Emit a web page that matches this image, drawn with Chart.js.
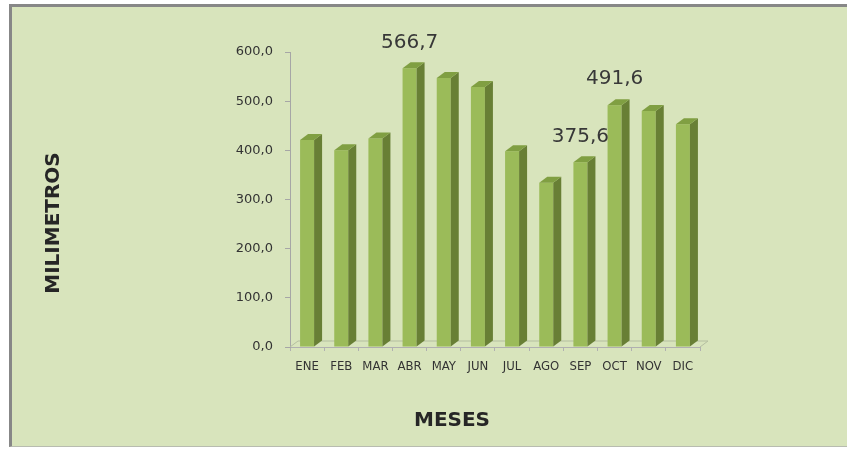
<!DOCTYPE html>
<html>
<head>
<meta charset="utf-8">
<script src="https://cdn.jsdelivr.net/npm/chart.js@4"></script>
<style>
  body { margin: 0; background: #ffffff; }
  #frame {
    position: absolute; left: 9px; top: 4px; width: 840px; height: 439px;
    background: #d8e4bc;
    border-left: 3px solid #878787; border-top: 3px solid #878787;
    border-bottom: 1px solid #b8bcb0;
  }
  #box { position: absolute; left: 0; top: 0; width: 847px; height: 449px; }
</style>
</head>
<body>
<div id="frame"></div>
<div id="box"><canvas id="lluvia_chart"></canvas></div>
<script>
// precipitacion mensual (mm)
const meses = ["ENE", "FEB", "MAR", "ABR", "MAY", "JUN", "JUL", "AGO", "SEP", "OCT", "NOV", "DIC"];
const milimetros = [421, 400, 424, 566.7, 547, 529, 398, 334, 375.6, 491.6, 480, 453];
const conEtiqueta = ["ABR", "SEP", "OCT"];
const yTicks = [0, 100, 200, 300, 400, 500, 600];

function coma(v) {
  return v.toFixed(1).replace(".", ",");
}

// caras laterales y superiores de las barras (efecto 3D)
const barras3d = {
  id: "barras3d",
  beforeDatasetsDraw(chart) {
    const ctx = chart.ctx;
    const area = chart.chartArea;
    ctx.save();
    ctx.strokeStyle = "#b4bea0";
    ctx.lineWidth = 1;
    ctx.beginPath();
    ctx.moveTo(area.left, area.bottom);
    ctx.lineTo(area.left + 8, area.bottom - 6);
    ctx.lineTo(area.right + 8, area.bottom - 6);
    ctx.lineTo(area.right, area.bottom);
    ctx.stroke();
    ctx.restore();
  },
  afterDatasetsDraw(chart) {
    const ctx = chart.ctx;
    const d = 8, h = 6;
    ctx.save();
    chart.getDatasetMeta(0).data.forEach((bar) => {
      const left = bar.x - bar.width / 2;
      const right = bar.x + bar.width / 2;
      // lado
      ctx.fillStyle = "#687f35";
      ctx.beginPath();
      ctx.moveTo(right, bar.y);
      ctx.lineTo(right + d, bar.y - h);
      ctx.lineTo(right + d, bar.base - h);
      ctx.lineTo(right, bar.base);
      ctx.closePath();
      ctx.fill();
      // tapa
      ctx.fillStyle = "#809f42";
      ctx.beginPath();
      ctx.moveTo(left, bar.y);
      ctx.lineTo(left + d, bar.y - h);
      ctx.lineTo(right + d, bar.y - h);
      ctx.lineTo(right, bar.y);
      ctx.closePath();
      ctx.fill();
    });
    ctx.restore();
  },
};

// valores sobre algunas barras y titulos de ejes
const textos = {
  id: "textos",
  afterDraw(chart) {
    const ctx = chart.ctx;
    ctx.save();
    ctx.fillStyle = "#383838";
    ctx.font = "20px 'DejaVu Sans'";
    ctx.textAlign = "center";
    ctx.textBaseline = "middle";
    chart.getDatasetMeta(0).data.forEach((bar, i) => {
      if (conEtiqueta.includes(meses[i])) {
        ctx.fillText(coma(milimetros[i]), bar.x, bar.y - 26);
      }
    });

    ctx.fillStyle = "#262626";
    ctx.font = "bold 20px 'DejaVu Sans'";
    ctx.fillText("MESES", 452, 421);

    ctx.translate(54, 223);
    ctx.rotate(-Math.PI / 2);
    ctx.fillText("MILIMETROS", 0, 0);
    ctx.restore();
  },
};

let lluvia_chart = document.getElementById("lluvia_chart");
let lluviaChart = new Chart(lluvia_chart, {
  type: "bar",
  data: {
    labels: meses,
    datasets: [
      {
        label: "Precipitacion",
        data: milimetros,
        backgroundColor: "#9bbb59",
        borderWidth: 0,
        barPercentage: 0.41,
        categoryPercentage: 1,
      },
    ],
  },
  options: {
    responsive: true,
    maintainAspectRatio: false,
    animation: false,
    layout: {
      padding: { top: 52, right: 147, left: 0, bottom: 0 },
    },
    plugins: {
      legend: { display: false },
      tooltip: { enabled: false },
    },
    scales: {
      x: {
        offset: true,
        afterFit: (scale) => {
          scale.height = 102;
        },
        border: { color: "#b0b0b0" },
        grid: {
          drawOnChartArea: false,
          tickLength: 4,
          color: "#b0b0b0",
          offset: true,
        },
        ticks: {
          padding: 8,
          color: "#333333",
          maxRotation: 0,
          autoSkip: false,
          font: { family: "'Liberation Sans Narrow', 'DejaVu Sans Condensed'", size: 13 },
        },
      },
      y: {
        min: 0,
        max: 600,
        afterFit: (scale) => {
          scale.width = 290;
        },
        afterBuildTicks: (scale) => {
          scale.ticks = yTicks.map((v) => ({ value: v }));
        },
        border: { color: "#a6a6a6" },
        grid: {
          drawOnChartArea: false,
          tickLength: 5,
          color: "#a6a6a6",
        },
        ticks: {
          padding: 12,
          color: "#333333",
          font: { family: "'DejaVu Sans'", size: 13 },
          callback: (v) => coma(v),
        },
      },
    },
  },
  plugins: [barras3d, textos],
});
</script>
</body>
</html>
